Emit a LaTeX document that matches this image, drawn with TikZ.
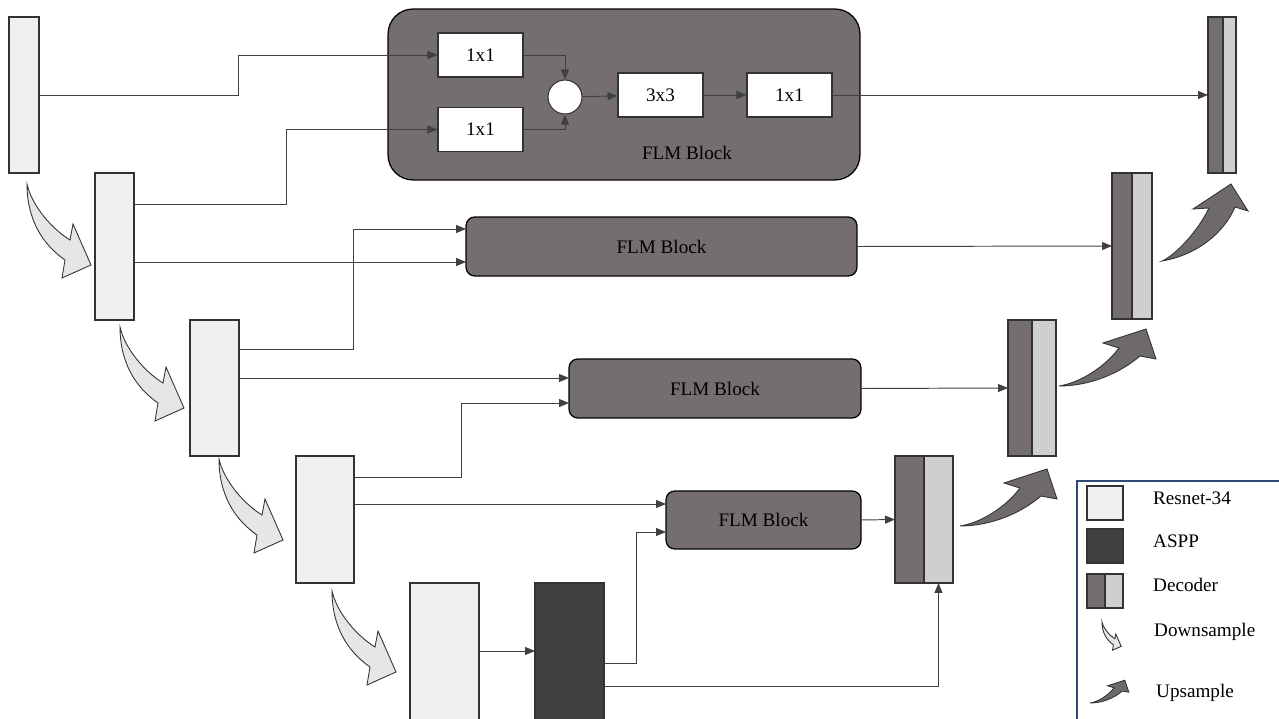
\documentclass[tikz,border=0pt]{standalone}
\usepackage{fontspec}
\setmainfont{Liberation Serif}
\usetikzlibrary{arrows.meta,positioning,calc}
\definecolor{fmline}{HTML}{333333}
\definecolor{fmwire}{HTML}{404040}
\definecolor{fmenc}{HTML}{F0F0F0}
\definecolor{fmaspp}{HTML}{404040}
\definecolor{fmflm}{HTML}{746F6E}
\definecolor{fmdeca}{HTML}{746F6E}
\definecolor{fmdecb}{HTML}{D0CFCF}
\definecolor{fmdown}{HTML}{E6E6E6}
\definecolor{fmup}{HTML}{6E6A69}
\definecolor{fmlegend}{HTML}{2E4A78}
\tikzset{
  txt/.style={font=\fontsize{10.9}{13}\selectfont,text=black},
  encblk/.style={rectangle,draw=fmline,line width=0.7pt,fill=fmenc,inner sep=0pt,outer sep=0pt},
  asppblk/.style={encblk,fill=fmaspp},
  decdark/.style={encblk,fill=fmdeca},
  declight/.style={encblk,fill=fmdecb},
  flmblk/.style={rectangle,rounded corners=5pt,draw=black,line width=0.7pt,fill=fmflm,
                 inner sep=0pt,outer sep=0pt,minimum height=1.18cm,txt},
  convblk/.style={rectangle,draw=fmline,line width=0.6pt,fill=white,inner sep=0pt,
                  minimum width=1.70cm,minimum height=0.88cm,txt},
  sumnode/.style={circle,draw=fmline,line width=0.6pt,fill=white,inner sep=0pt,minimum size=0.68cm},
  flow/.style={-{Triangle[length=2mm,width=1.6mm]},line width=0.55pt,draw=fmwire},
  arrshape/.style={draw=fmline,line width=0.5pt},
  downsample/.pic={
    \draw[arrshape,fill=fmdown] (0,0) .. controls (0,35) and (15,60) .. (38,76)
      -- (35,94) -- (64,81) -- (46,40) -- (43,56) .. controls (25,45) and (5,22) .. (0,0) -- cycle;
  },
  upsample/.pic={
    \draw[arrshape,fill=fmup] (0,0) .. controls (20,-3) and (45,-18) .. (60,-38)
      -- (44,-43) -- (87,-57) -- (97,-27) -- (81,-30) .. controls (60,-12) and (30,0) .. (0,0) -- cycle;
  },
  upsamplesteep/.pic={
    \draw[arrshape,fill=fmup] (0,0) .. controls (12,-5) and (35,-28) .. (47,-53)
      -- (31,-52) -- (69,-77) -- (86,-50) -- (73,-54) .. controls (62,-28) and (35,-6) .. (0,0) -- cycle;
  },
}
\begin{document}
\begin{tikzpicture}[x=0.02cm,y=-0.02cm]
\useasboundingbox (0,0) rectangle (1279,719);
\clip (0,0) rectangle (1279,719);

% encoder (Resnet-34) and ASPP
\node[encblk,minimum width=0.60cm,minimum height=3.12cm] (enc1) at (24,95) {};
\node[encblk,minimum width=0.78cm,minimum height=2.94cm] (enc2) at (114.5,246.5) {};
\node[encblk,minimum width=0.98cm,minimum height=2.72cm] (enc3) at (214.5,388) {};
\node[encblk,minimum width=1.16cm,minimum height=2.54cm] (enc4) at (325,519.5) {};
\node[encblk,minimum width=1.38cm,minimum height=3.14cm] (enc5) at (444.5,661.5) {};
\node[asppblk,minimum width=1.38cm,minimum height=3.14cm] (aspp) at (569.5,661.5) {};

% big FLM block with its inside
\node[flmblk,rounded corners=0.5cm,minimum width=9.44cm,minimum height=3.42cm] (flm1) at (624,94.5) {};
\node[convblk] (c11a) at (480.5,55) {1x1};
\node[convblk] (c11b) at (480.5,129.5) {1x1};
\node[sumnode] (sum) at (565,97) {};
\node[convblk] (c33) at (660.5,95) {3x3};
\node[convblk] (c11c) at (789.5,95) {1x1};
\node[txt] (flm1lbl) at (687,153) {FLM Block};

% small FLM blocks
\node[flmblk,minimum width=7.82cm] (flm2) at (661.5,246.5) {FLM Block};
\node[flmblk,minimum width=5.84cm] (flm3) at (715,388.5) {FLM Block};
\node[flmblk,minimum width=3.90cm,minimum height=1.16cm] (flm4) at (763.5,520) {FLM Block};

% decoder
\node[decdark,minimum width=0.30cm,minimum height=3.12cm] (d1) at (1215.5,95) {};
\node[declight,minimum width=0.26cm,minimum height=3.12cm] (d1b) at (1229.5,95) {};
\node[decdark,minimum width=0.40cm,minimum height=2.92cm] (d2) at (1122,246) {};
\node[declight,minimum width=0.40cm,minimum height=2.92cm] (d2b) at (1142,246) {};
\node[decdark,minimum width=0.48cm,minimum height=2.72cm] (d3) at (1020,388) {};
\node[declight,minimum width=0.48cm,minimum height=2.72cm] (d3b) at (1044,388) {};
\node[decdark,minimum width=0.58cm,minimum height=2.54cm] (d4) at (909.5,519.5) {};
\node[declight,minimum width=0.58cm,minimum height=2.54cm] (d4b) at (938.5,519.5) {};

% connections
\draw[flow] (enc1.east) -- ++(199,0) |- (c11a.west);
\draw[flow] (enc2.east |- 0,204) -- ++(152,0) |- (c11b.west);
\draw[flow] (c11a.east) -| (sum.north);
\draw[flow] (c11b.east) -| (sum.south);
\draw[flow] (sum) -- (c33);
\draw[flow] (c33) -- (c11c);
\draw[flow] (c11c.east) -- (d1.west);
\draw[flow] (enc2.east |- 0,262) -- (flm2.west |- 0,262);
\draw[flow] (enc3.east |- 0,349) -- ++(114,0) |- (flm2.west |- 0,229);
\draw[flow] (flm2.east) -- (d2.west);
\draw[flow] (enc3.east |- 0,378) -- (flm3.west |- 0,378);
\draw[flow] (enc4.east |- 0,477) -- ++(107,0) |- (flm3.west |- 0,403);
\draw[flow] (flm3.east) -- (d3.west);
\draw[flow] (enc4.east |- 0,504) -- (flm4.west |- 0,504);
\draw[flow] (aspp.east |- 0,663) -- ++(32,0) |- (flm4.west |- 0,532);
\draw[flow] (flm4.east) -- (d4.west);
\draw[flow] (aspp.east |- 0,686) -| (d4b.south);
\draw[flow] (enc5.east |- 0,651) -- (aspp.west |- 0,651);

% down / up sampling
\pic at (27,184) {downsample};
\pic at (120,327) {downsample};
\pic at (219,459) {downsample};
\pic at (332,591) {downsample};
\pic at (960,526) {upsample};
\pic at (1059,386) {upsample};
\pic at (1162,261) {upsamplesteep};

% legend
\draw[fmlegend,line width=0.8pt] (1077,481) rectangle (1300,740);
\node[encblk,minimum width=0.72cm,minimum height=0.68cm] (lres) at (1105,503) {};
\node[asppblk,minimum width=0.72cm,minimum height=0.68cm] (laspp) at (1105,546) {};
\node[decdark,minimum width=0.36cm,minimum height=0.68cm] (ldec) at (1096,591) {};
\node[declight,minimum width=0.36cm,minimum height=0.68cm] (ldecb) at (1114,591) {};
\pic[scale=0.3] at (1102,622) {downsample};
\pic[scale=0.4] at (1090,703) {upsample};
\node[txt,anchor=base west] (tres) at (1147,505) {Resnet-34};
\node[txt,anchor=base west] (taspp) at (1147,548) {ASPP};
\node[txt,anchor=base west] (tdec) at (1147,592) {Decoder};
\node[txt,anchor=base west] (tdown) at (1148,637) {Downsample};
\node[txt,anchor=base west] (tup) at (1150,698) {Upsample};
\end{tikzpicture}
\end{document}
